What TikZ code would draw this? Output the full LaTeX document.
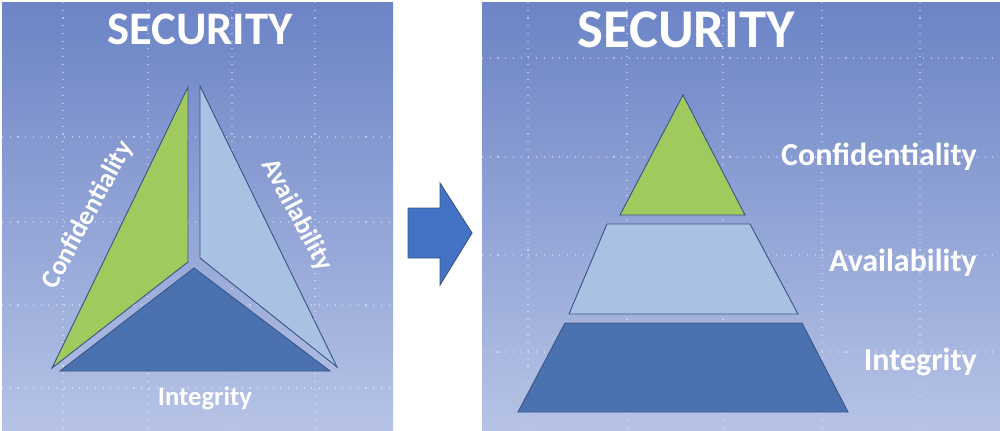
\documentclass[tikz,border=0pt]{standalone}
\usepackage{fontspec}
\setmainfont{Carlito}
\definecolor{bgtop}{HTML}{6C84C6}
\definecolor{bgbot}{HTML}{B6C3E6}
\definecolor{cgreen}{HTML}{A0C95E}
\definecolor{clight}{HTML}{A9C1E3}
\definecolor{cdark}{HTML}{4B72B0}
\definecolor{cedge}{HTML}{3A5686}
\definecolor{carrow}{HTML}{4472C4}
\tikzset{
  panel/.style={top color=bgtop,bottom color=bgbot,draw=none},
  gridline/.style={draw=white,opacity=0.45,dash pattern=on 0.8pt off 5pt,line width=1pt},
  piece/.style={draw=cedge,line width=0.7pt,line join=miter},
  title/.style={font=\bfseries\fontsize{35}{40}\selectfont,text=white,inner sep=0pt},
  titler/.style={font=\bfseries\fontsize{41}{46}\selectfont,text=white,inner sep=0pt},
  lbl/.style={font=\bfseries\fontsize{20}{24}\selectfont,text=white,inner sep=0pt},
  lblr/.style={font=\bfseries\fontsize{24}{28}\selectfont,text=white,inner sep=0pt},
}
\begin{document}
\begin{tikzpicture}[x=0.75pt,y=-0.75pt]
\useasboundingbox (0,0) rectangle (1000,430);
\fill[white] (0,0) rectangle (1000,430);
% panels
\shade[panel] (2,2) rectangle (393,430);
\shade[panel] (482,2) rectangle (1000,430);
% grid left
\foreach \x in {63,148,232,315} \draw[gridline] (\x,2) -- (\x,430);
\foreach \y in {137,222,305,388} \draw[gridline] (2,\y) -- (393,\y);
% grid right
\foreach \x in {528,627,723,822,920} \draw[gridline] (\x,2) -- (\x,430);
\foreach \y in {58,157,255,352} \draw[gridline] (482,\y) -- (1000,\y);
% left triangle pieces
\filldraw[piece,fill=cgreen] (188,87) -- (188,262) -- (52,368) -- cycle;
\filldraw[piece,fill=clight] (200,86) -- (200,258) -- (337,367) -- cycle;
\filldraw[piece,fill=cdark] (194,268) -- (330,371) -- (60,371) -- cycle;
% right pyramid
\filldraw[piece,fill=cgreen] (683,95) -- (745,215) -- (620,215) -- cycle;
\filldraw[piece,fill=clight] (607,224) -- (750,224) -- (798,314) -- (569,314) -- cycle;
\filldraw[piece,fill=cdark] (565,323) -- (802,323) -- (848,412) -- (518,412) -- cycle;
% arrow
\filldraw[draw=cedge,fill=carrow,line width=0.7pt] (408,208) -- (440,208) -- (440,183) -- (472,233) -- (440,285) -- (440,258) -- (408,258) -- cycle;
% texts left
\node[title] (t1) at (200,29) {SECURITY};
\node[lbl,rotate=61.6] (c1) at (88,215) {Confidentiality};
\node[lbl,rotate=-62] (a1) at (297,215) {Availability};
\node[lbl] (i1) at (205,398) {Integrity};
% texts right
\node[titler] (t2) at (686,30) {SECURITY};
\node[lblr,anchor=east] (c2) at (977,157) {Confidentiality};
\node[lblr,anchor=east] (a2) at (977,263) {Availability};
\node[lblr,anchor=east] (i2) at (977,362) {Integrity};
\end{tikzpicture}
\end{document}
